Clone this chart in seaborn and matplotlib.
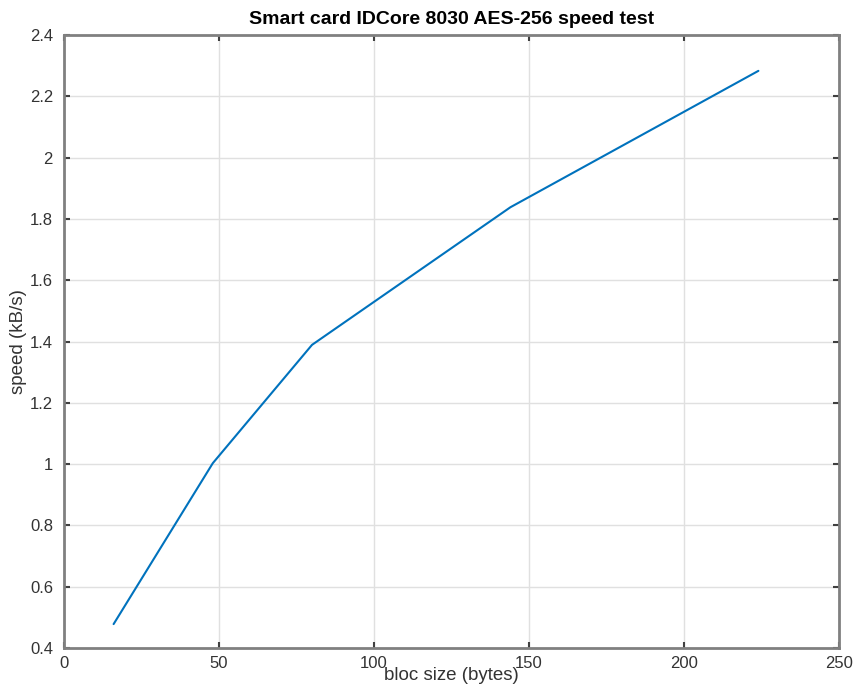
import matplotlib
matplotlib.use("Agg")
import matplotlib.pyplot as plt
import seaborn as sns
import pandas as pd

bloc_size = [16, 48, 80, 144, 224]
speed = [0.478, 1.003, 1.389, 1.838, 2.283]
x_ticks = [0, 50, 100, 150, 200, 250]
y_ticks = [0.4, 0.6, 0.8, 1.0, 1.2, 1.4, 1.6, 1.8, 2.0, 2.2, 2.4]
y_labels = ["0.4", "0.6", "0.8", "1", "1.2", "1.4", "1.6", "1.8", "2", "2.2", "2.4"]

sns.set_style("white")
plt.rcParams['font.family'] = ['Liberation Sans', 'DejaVu Sans']

df = pd.DataFrame({"bloc": bloc_size, "speed": speed})

fig = plt.figure(figsize=(8.58, 6.9), dpi=100)
ax = fig.add_axes([64/858, 1 - 648/690, (839 - 64)/858, (648 - 35)/690])
sns.lineplot(data=df, x="bloc", y="speed", ax=ax, color="#0072BD", linewidth=1.5)

ax.set_xlim(0, 250)
ax.set_ylim(0.4, 2.4)
ax.set_xticks(x_ticks)
ax.set_yticks(y_ticks)
ax.set_yticklabels(y_labels)
ax.grid(True, color="#e0e0e0", linewidth=1)
for s in ax.spines.values():
    s.set_color("#808080")
    s.set_linewidth(2)
ax.tick_params(direction="in", length=4, width=1.5, color="#404040",
               labelsize=12, labelcolor="#333333", top=True, right=True,
               bottom=True, left=True)
ax.tick_params(axis="x", pad=6)
ax.tick_params(axis="y", pad=8)
ax.set_xlabel("bloc size (bytes)", fontsize=13.5, color="#333333", labelpad=-3)
ax.set_ylabel("speed (kB/s)", fontsize=13.5, color="#333333", labelpad=2)
ax.set_title("Smart card IDCore 8030 AES-256 speed test", fontsize=14,
             fontweight="bold", color="#000000", pad=8)

fig.savefig("out.png", dpi=100)
